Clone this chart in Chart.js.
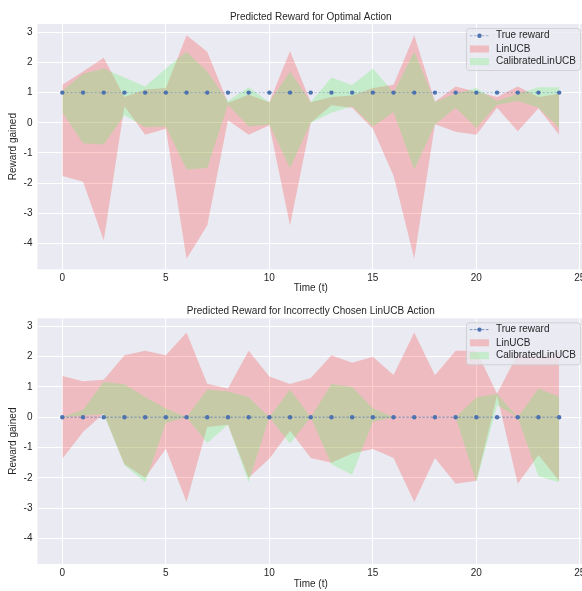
<!DOCTYPE html>
<html>
<head>
<meta charset="utf-8">
<script src="https://cdn.jsdelivr.net/npm/chart.js@4"></script>
<style>
  html, body { margin: 0; padding: 0; background: #fff; overflow: hidden; width: 582px; height: 591px; }
  canvas { position: absolute; left: 0; }
</style>
</head>
<body>
<canvas id="optimal" width="588" height="295" style="top:0"></canvas>
<canvas id="wrong" width="588" height="296" style="top:295px"></canvas>
<script>
// ── DATA ──────────────────────────────────────────────────────
const timeSteps = [0, 1, 2, 3, 4, 5, 6, 7, 8, 9, 10, 11, 12, 13, 14, 15, 16, 17, 18, 19, 20, 21, 22, 23, 24];
const xTicks = [0, 5, 10, 15, 20, 25];
const yTicks = [-4, -3, -2, -1, 0, 1, 2, 3];

// optimal action
const optTrue = [1, 1, 1, 1, 1, 1, 1, 1, 1, 1, 1, 1, 1, 1, 1, 1, 1, 1, 1, 1, 1, 1, 1, 1, 1];
const optLinUpper = [1.26, 1.7, 2.15, 0.85, 1.1, 1.15, 2.9, 2.35, 0.66, 0.93, 0.68, 2.38, 0.68, 0.85, 0.9, 1.15, 1.26, 2.9, 0.7, 1.2, 1.03, 0.85, 1.2, 0.85, 0.96];
const optLinLower = [-1.76, -1.95, -3.9, 0.55, -0.4, -0.2, -4.5, -3.4, 0.08, -0.4, -0.08, -3.4, 0.0, 0.58, 0.5, -0.2, -1.75, -4.5, -0.05, -0.3, -0.4, 0.5, -0.28, 0.48, -0.4];
const optCalUpper = [1.05, 1.62, 1.8, 1.5, 1.2, 1.8, 2.35, 1.7, 0.72, 1.18, 0.68, 1.7, 0.68, 1.5, 1.25, 1.8, 1.0, 2.35, 0.7, 0.96, 1.15, 0.72, 0.96, 1.18, 1.18];
const optCalLower = [0.35, -0.68, -0.72, 0.25, -0.15, -0.12, -1.55, -1.5, 0.6, -0.12, -0.06, -1.5, 0.0, 0.33, 0.55, -0.12, 0.35, -1.55, -0.06, 0.5, -0.17, 0.6, 0.72, 0.5, -0.17];

// incorrectly chosen LinUCB action
const badTrue = [0, 0, 0, 0, 0, 0, 0, 0, 0, 0, 0, 0, 0, 0, 0, 0, 0, 0, 0, 0, 0, 0, 0, 0, 0];
const badLinUpper = [1.36, 1.19, 1.24, 2.05, 2.2, 2.05, 2.8, 1.11, 0.95, 2.2, 1.35, 1.1, 1.3, 2.05, 1.8, 2.0, 1.4, 2.8, 1.39, 2.2, 2.2, 0.78, 2.1, 2.0, 2.15];
const badLinLower = [-1.37, -0.49, 0.12, -1.55, -2.0, -1.04, -2.8, -0.32, -0.25, -2.0, -1.37, -0.45, -1.35, -1.5, -1.2, -1.05, -1.35, -2.8, -1.35, -2.2, -2.1, 0.72, -2.2, -1.25, -2.1];
const badCalUpper = [0, 0.25, 1.17, 1.09, 0.67, 0.29, 0, 0.92, 0.85, 0.67, 0, 0.92, 0, 1.1, 1.0, 0.3, 0, 0, 0, 0, 0.65, 0.78, 0, 0.95, 0.68];
const badCalLower = [0, 0.05, 0.1, -1.59, -2.15, -0.19, 0, -0.85, -0.25, -2.15, 0, -0.87, 0, -1.55, -1.9, -0.15, 0, 0, 0, 0, -2.15, 0.4, 0, -1.95, -2.15];

// ── STYLE ─────────────────────────────────────────────────────
const FONT = '"Liberation Sans", Arial, sans-serif';
const FS = 10;
const TEXT = '#262626';
const AX_BG = '#EAEAF2';
const BLUE = '#4C72B0';
const RED_FILL = 'rgba(255,20,10,0.21)';
const GREEN_FILL = 'rgba(100,240,100,0.28)';

const pts = ys => timeSteps.map((t, i) => ({ x: t, y: ys[i] }));

// axes background (seaborn darkgrid)
const axBg = {
  id: 'axBg',
  beforeDraw(chart) {
    const { ctx, chartArea: a } = chart;
    ctx.save();
    ctx.fillStyle = AX_BG;
    ctx.fillRect(a.left, a.top, a.right - a.left, a.bottom - a.top);
    ctx.restore();
  },
};

// title centred over the axes, like matplotlib
const axTitle = {
  id: 'axTitle',
  afterDraw(chart, args, opts) {
    const { ctx, chartArea: a } = chart;
    ctx.save();
    ctx.font = `${FS}px ${FONT}`;
    ctx.fillStyle = TEXT;
    ctx.textAlign = 'center';
    ctx.textBaseline = 'middle';
    ctx.fillText(opts.text, (a.left + a.right) / 2, opts.y);
    ctx.restore();
  },
};

// matplotlib-like legend in the upper right of the axes
const boxLegend = {
  id: 'boxLegend',
  afterDraw(chart, args, opts) {
    const { ctx, chartArea: a } = chart;
    const labels = ['True reward', 'LinUCB', 'CalibratedLinUCB'];
    ctx.save();
    ctx.font = `${FS}px ${FONT}`;
    const maxW = Math.max(...labels.map(l => ctx.measureText(l).width));
    const right = a.right - 4, top = a.top + 4;
    const w = 30 + maxW + 4, h = 42;
    const left = right - w;
    ctx.beginPath();
    ctx.roundRect(left + 0.5, top + 0.5, w, h, 3);
    ctx.fillStyle = 'rgba(234,234,242,0.8)';
    ctx.fill();
    ctx.strokeStyle = 'rgba(204,204,204,0.8)';
    ctx.lineWidth = 1;
    ctx.stroke();

    const rows = opts.rows;
    const sx = left + 4, sw = 19;
    // True reward sample
    ctx.strokeStyle = opts.lineColor;
    ctx.setLineDash([2.5, 1.5]);
    ctx.beginPath();
    ctx.moveTo(sx, top + rows[0]);
    ctx.lineTo(sx + sw, top + rows[0]);
    ctx.stroke();
    ctx.setLineDash([]);
    ctx.fillStyle = BLUE;
    ctx.beginPath();
    ctx.arc(sx + sw / 2, top + rows[0], 2.2, 0, Math.PI * 2);
    ctx.fill();
    // patches
    ctx.fillStyle = RED_FILL;
    ctx.fillRect(sx, top + rows[1] - 3.5, sw, 7);
    ctx.fillStyle = GREEN_FILL;
    ctx.fillRect(sx, top + rows[2] - 3.5, sw, 7);
    // texts
    ctx.fillStyle = TEXT;
    ctx.textBaseline = 'middle';
    labels.forEach((l, i) => ctx.fillText(l, left + 30, top + rows[i]));
    ctx.restore();
  },
};

function buildPanel(canvas, { title, truth, linUp, linLo, calUp, calLo, lay }) {
  const band = (data, fill, color) => ({
    data: pts(data),
    borderWidth: 0,
    pointRadius: 0,
    backgroundColor: color,
    fill,
  });
  return new Chart(canvas, {
    type: 'line',
    data: {
      datasets: [
        {
          data: pts(truth),
          borderColor: lay.lineColor,
          borderWidth: 1,
          borderDash: [2.5, 1.5],
          pointRadius: 2.2,
          pointBackgroundColor: BLUE,
          pointBorderWidth: 0,
          fill: false,
        },
        band(calUp, '+1', GREEN_FILL),
        band(calLo, false, GREEN_FILL),
        band(linUp, '+1', RED_FILL),
        band(linLo, false, RED_FILL),
      ],
    },
    plugins: [axBg, axTitle, boxLegend],
    options: {
      responsive: false,
      animation: false,
      layout: { padding: { top: lay.areaTop, left: 0, right: 0, bottom: 0 } },
      elements: { line: { tension: 0 } },
      plugins: {
        legend: { display: false },
        tooltip: { enabled: false },
        title: { display: false },
        axTitle: { text: title, y: lay.titleY },
        boxLegend: { rows: lay.rows, lineColor: lay.lineColor },
      },
      scales: {
        x: {
          type: 'linear',
          min: -1.2,
          max: 25.2,
          afterBuildTicks: s => { s.ticks = xTicks.map(v => ({ value: v })); },
          afterFit: s => { s.height = lay.xHeight; s.paddingLeft = 0; s.paddingRight = 0; },
          grid: { color: '#ffffff', lineWidth: 1, drawTicks: false },
          border: { display: false },
          ticks: { color: TEXT, font: { family: FONT, size: FS }, padding: 3, maxRotation: 0 },
          title: {
            display: true, text: 'Time (t)', color: TEXT,
            font: { family: FONT, size: FS, lineHeight: 1.2 },
            padding: { top: 0, bottom: lay.xTitlePad },
          },
        },
        y: {
          min: -4.85,
          max: 3.27,
          afterBuildTicks: s => { s.ticks = yTicks.map(v => ({ value: v })); },
          afterFit: s => { s.width = 37.5; s.paddingTop = 0; s.paddingBottom = 0; },
          grid: { color: '#ffffff', lineWidth: 1, drawTicks: false },
          border: { display: false },
          ticks: { color: TEXT, font: { family: FONT, size: FS }, padding: 5 },
          title: {
            display: true, text: 'Reward gained', color: TEXT,
            font: { family: FONT, size: FS, lineHeight: 1.2 },
            padding: { top: 7, bottom: 0 },
          },
        },
      },
    },
  });
}

buildPanel(document.getElementById('optimal'), {
  title: 'Predicted Reward for Optimal Action',
  truth: optTrue, linUp: optLinUpper, linLo: optLinLower, calUp: optCalUpper, calLo: optCalLower,
  lay: { areaTop: 24, titleY: 17, xHeight: 25.7, xTitlePad: 0.6, rows: [7.7, 21, 33.7], lineColor: 'rgba(76,114,176,0.45)' },
});

buildPanel(document.getElementById('wrong'), {
  title: 'Predicted Reward for Incorrectly Chosen LinUCB Action',
  truth: badTrue, linUp: badLinUpper, linLo: badLinLower, calUp: badCalUpper, calLo: badCalLower,
  lay: { areaTop: 23.3, titleY: 16, xHeight: 27, xTitlePad: 1.1, rows: [7.3, 20.5, 33.4], lineColor: 'rgba(76,114,176,0.75)' },
});
</script>
</body>
</html>
